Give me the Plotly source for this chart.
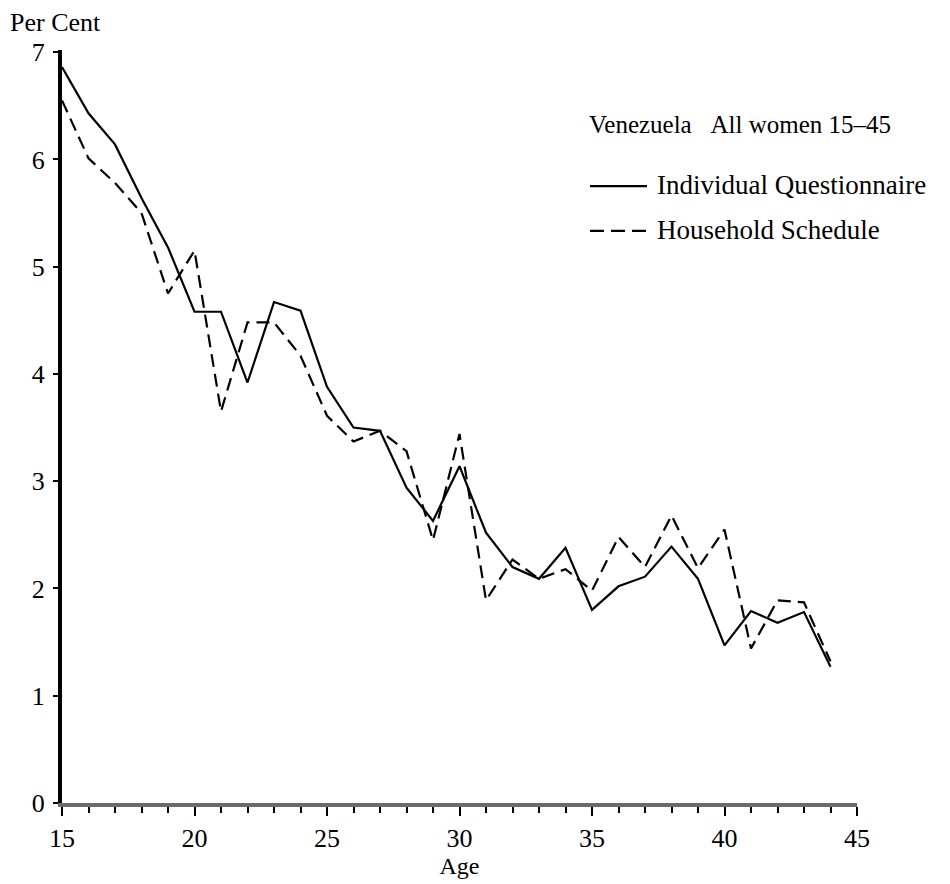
import plotly.graph_objects as go

ages = list(range(15, 45))
individual_questionnaire = [6.86, 6.43, 6.14, 5.64, 5.18, 4.58, 4.58, 3.92, 4.67, 4.59,
                            3.88, 3.50, 3.47, 2.94, 2.63, 3.14, 2.52, 2.20, 2.09, 2.38,
                            1.80, 2.02, 2.11, 2.39, 2.09, 1.47, 1.79, 1.68, 1.78, 1.27]
household_schedule = [6.55, 6.01, 5.78, 5.50, 4.75, 5.15, 3.65, 4.48, 4.48, 4.17,
                      3.61, 3.37, 3.47, 3.28, 2.45, 3.44, 1.89, 2.27, 2.09, 2.18,
                      1.98, 2.48, 2.20, 2.68, 2.19, 2.55, 1.44, 1.89, 1.87, 1.32]
x_ticks = [15, 20, 25, 30, 35, 40, 45]
y_ticks = [0, 1, 2, 3, 4, 5, 6, 7]

FONT = "Liberation Serif"

fig = go.Figure()
fig.add_trace(go.Scatter(x=ages, y=individual_questionnaire, mode="lines",
                         name="Individual Questionnaire",
                         line=dict(color="black", width=2.2)))
fig.add_trace(go.Scatter(x=ages, y=household_schedule, mode="lines",
                         name="Household Schedule",
                         line=dict(color="black", width=2.2, dash="13px,7px")))

fig.update_layout(
    width=950, height=884,
    margin=dict(l=62, r=93, t=50, b=76),
    paper_bgcolor="white", plot_bgcolor="white",
    showlegend=False,
    font=dict(family=FONT, color="black", size=24),
)
fig.update_xaxes(
    range=[15, 45], tickvals=x_ticks, ticktext=[str(v) for v in x_ticks],
    showgrid=False, zeroline=False,
    showline=True, linecolor="#6a6a6a", linewidth=4,
    ticks="outside", ticklen=9, tickwidth=2, tickcolor="black",
    minor=dict(dtick=1, ticks="outside", ticklen=6, tickwidth=2, tickcolor="black", showgrid=False),
    tickfont=dict(family=FONT, size=26),
    ticklabelstandoff=0,
    title=dict(text="Age", font=dict(family=FONT, size=24), standoff=2),
)
fig.update_yaxes(
    range=[0, 7.02], tickvals=y_ticks, ticktext=[str(v) for v in y_ticks],
    showgrid=False, zeroline=False,
    showline=True, linecolor="black", linewidth=4,
    ticks="outside", ticklen=5, tickwidth=2, tickcolor="black",
    tickfont=dict(family=FONT, size=26),
    ticklabelstandoff=3,
)

def px_x(p):
    return (p - 62) / 795.0

def px_y(p):
    return (808 - p) / 758.0

fig.add_annotation(text="Per Cent", xref="paper", yref="paper",
                   x=px_x(8), y=px_y(22), xanchor="left", yanchor="middle",
                   showarrow=False, font=dict(family=FONT, size=26))
fig.add_annotation(text="Venezuela&nbsp;&nbsp;&nbsp;All women 15\u201345", xref="paper", yref="paper",
                   x=px_x(587), y=px_y(125), xanchor="left", yanchor="middle",
                   showarrow=False, font=dict(family=FONT, size=25))
fig.add_annotation(text="Individual Questionnaire", xref="paper", yref="paper",
                   x=px_x(655), y=px_y(186), xanchor="left", yanchor="middle",
                   showarrow=False, font=dict(family=FONT, size=27))
fig.add_annotation(text="Household Schedule", xref="paper", yref="paper",
                   x=px_x(655), y=px_y(231), xanchor="left", yanchor="middle",
                   showarrow=False, font=dict(family=FONT, size=27))
fig.add_shape(type="line", xref="paper", yref="paper",
              x0=px_x(590), x1=px_x(647), y0=px_y(187), y1=px_y(187),
              line=dict(color="black", width=2.2))
fig.add_shape(type="line", xref="paper", yref="paper",
              x0=px_x(590), x1=px_x(647), y0=px_y(232), y1=px_y(232),
              line=dict(color="black", width=2.2, dash="14px,7px"))

fig.write_html("out.html")
